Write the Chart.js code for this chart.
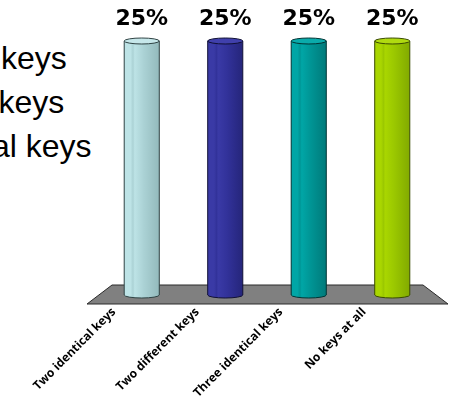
<!DOCTYPE html>
<html>
<head>
<meta charset="utf-8">
<script src="https://cdn.jsdelivr.net/npm/chart.js@4.4.1/dist/chart.umd.min.js"></script>
<style>
  html, body { margin: 0; padding: 0; background: #fff; overflow: hidden; }
  #wrap { position: relative; width: 455px; height: 409px; overflow: hidden; }
  canvas { position: absolute; left: 0; top: 0; }
  .side { position: absolute; left: -193px; font-family: "Liberation Sans", Arial, sans-serif; font-size: 32px; color: #000; white-space: nowrap; line-height: 32px; }
</style>
</head>
<body>
<div id="wrap">
  <div class="side" style="top:42px">Two identical keys</div>
  <div class="side" style="top:86px">Two different keys</div>
  <div class="side" style="top:130px">Three identical keys</div>
  <canvas id="c" width="455" height="409"></canvas>
</div>
<script>
const categories = ["Two identical keys", "Two different keys", "Three identical keys", "No keys at all"];
const values = [25, 25, 25, 25];
const valueLabels = ["25%", "25%", "25%", "25%"];

const barColors = [
  { l: "#bde3e6", m: "#abd2d5", r: "#93babc", cap: "#c6e7ea", edge: "#2f4344" },
  { l: "#3a3aa6", m: "#32329a", r: "#25257a", cap: "#4040ac", edge: "#101035" },
  { l: "#00a6a6", m: "#009595", r: "#007a7a", cap: "#0aabab", edge: "#003535" },
  { l: "#a9d600", m: "#9bc800", r: "#82aa00", cap: "#b0da10", edge: "#3a4c00" }
];

function barGradient(ctx, el, c) {
  const x0 = el.x - el.width / 2, x1 = el.x + el.width / 2;
  const g = ctx.createLinearGradient(x0, 0, x1, 0);
  g.addColorStop(0, c.l);
  g.addColorStop(0.18, c.l);
  g.addColorStop(0.25, c.m);
  g.addColorStop(0.3, c.l);
  g.addColorStop(0.55, c.m);
  g.addColorStop(1, c.r);
  return g;
}

const cylinderPlugin = {
  id: "cyl",
  beforeDatasetsDraw(chart) {
    const ctx = chart.ctx;
    const a = chart.chartArea;
    const y0 = chart.scales.y.getPixelForValue(0);
    ctx.save();
    ctx.beginPath();
    ctx.moveTo(a.left + 12, y0 - 10);
    ctx.lineTo(a.right - 11, y0 - 10);
    ctx.lineTo(a.right + 14, y0 + 9);
    ctx.lineTo(a.left - 13, y0 + 9);
    ctx.closePath();
    ctx.fillStyle = "#808080";
    ctx.fill();
    ctx.strokeStyle = "#2a2a2a";
    ctx.lineWidth = 1;
    ctx.stroke();
    ctx.restore();
  },
  afterDatasetsDraw(chart) {
    const ctx = chart.ctx;
    const meta = chart.getDatasetMeta(0);
    meta.data.forEach((el, i) => {
      const c = barColors[i];
      const w = el.width, x0 = el.x - w / 2, x1 = el.x + w / 2;
      const top = el.y, base = el.base;
      const ry = 3;
      ctx.save();
      ctx.beginPath();
      ctx.moveTo(x0, top);
      ctx.lineTo(x0, base);
      ctx.ellipse(el.x, base, w / 2, ry, 0, Math.PI, 0, true);
      ctx.lineTo(x1, top);
      ctx.closePath();
      ctx.fillStyle = barGradient(ctx, el, c);
      ctx.fill();
      ctx.strokeStyle = c.edge;
      ctx.lineWidth = 1;
      ctx.stroke();
      ctx.beginPath();
      ctx.ellipse(el.x, top, w / 2, ry, 0, 0, Math.PI * 2);
      ctx.fillStyle = c.cap;
      ctx.fill();
      ctx.strokeStyle = c.edge;
      ctx.stroke();
      ctx.fillStyle = "#000";
      ctx.font = "bold 22px 'DejaVu Sans', sans-serif";
      ctx.textAlign = "center";
      ctx.textBaseline = "alphabetic";
      ctx.fillText(valueLabels[i], el.x, 25);
      ctx.restore();
    });
  }
};

new Chart(document.getElementById("c"), {
  type: "bar",
  data: {
    labels: categories,
    datasets: [{
      data: values,
      backgroundColor: "rgba(0,0,0,0)",
      borderWidth: 0,
      barPercentage: 0.42,
      categoryPercentage: 1
    }]
  },
  options: {
    responsive: false,
    animation: false,
    devicePixelRatio: 1,
    layout: { padding: { left: 100, right: 21, top: 41, bottom: 0 } },
    plugins: { legend: { display: false }, tooltip: { enabled: false } },
    scales: {
      x: {
        grid: { display: false },
        border: { display: false },
        ticks: {
          minRotation: 45,
          maxRotation: 45,
          padding: 2,
          labelOffset: -28,
          color: "#000",
          font: { family: "'Open Sans', sans-serif", size: 12, weight: "bold" }
        },
        afterFit(scale) { scale.height = 114; scale.paddingLeft = 0; scale.paddingRight = 0; }
      },
      y: {
        display: false,
        min: 0,
        max: 25
      }
    }
  },
  plugins: [cylinderPlugin]
});
</script>
</body>
</html>
